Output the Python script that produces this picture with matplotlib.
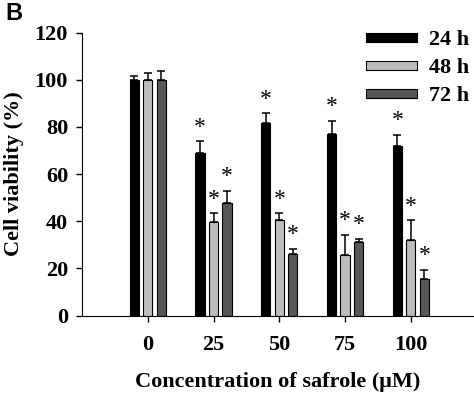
import numpy as np
import matplotlib as mpl
mpl.use('Agg')
import matplotlib.pyplot as plt
from matplotlib.patches import Patch

plt.rcParams['font.family'] = ['Liberation Serif', 'DejaVu Serif']

# data
conc = ['0', '25', '50', '75', '100']
labels = ['24 h', '48 h', '72 h']
v24 = [100, 68.8, 81.6, 76.9, 72.0]
e24 = [1.8, 5.1, 4.2, 5.8, 4.6]
v48 = [100, 39.8, 40.4, 25.5, 31.9]
e48 = [3.0, 3.6, 2.9, 8.8, 8.5]
v72 = [100, 47.8, 26.0, 31.2, 15.5]
e72 = [3.8, 5.0, 2.4, 1.3, 3.9]
stars24 = [False, True, True, True, True]
stars48 = [False, True, True, True, True]
stars72 = [False, True, True, True, True]

colors = ['#000000', '#bdbdbd', '#575757']

fig = plt.figure(figsize=(4.74, 3.99), dpi=100)
ax = fig.add_axes([82/474, (399-315.5)/399, (474-82)/474, (315.5-32.7)/399])

x = np.arange(len(conc))
w = 0.141
off = 0.205
series = [(v24, e24, stars24), (v48, e48, stars48), (v72, e72, stars72)]
for k, (vals, errs, stars) in enumerate(series):
	xs = x + (k-1)*off
	ax.bar(xs, vals, w, color=colors[k], edgecolor='black', linewidth=0.8, zorder=2)
	ax.errorbar(xs, vals, yerr=[np.zeros(len(vals)), errs], fmt='none',
		ecolor='black', elinewidth=1.1, capsize=3, capthick=1.1, zorder=3)
	for i in range(len(vals)):
		if stars[i]:
			ax.text(xs[i], vals[i] + errs[i] + 6, '*', ha='center', va='center',
				fontsize=17, family='Liberation Serif')

ax.set_xlim(-1.0, 4.96)
ax.set_ylim(0, 120)
ax.set_yticks([0, 20, 40, 60, 80, 100, 120])
ax.set_xticks(x)
ax.set_xticklabels(conc)
ax.spines['top'].set_visible(False)
ax.spines['right'].set_visible(False)
ax.tick_params(axis='both', direction='out', length=4, width=1, labelsize=16)
ax.tick_params(axis='x', pad=10)
ax.tick_params(axis='y', pad=6)
for lab in ax.get_xticklabels() + ax.get_yticklabels():
	lab.set_fontweight('bold')

ax.set_xlabel('Concentration of safrole (\u03bcM)', fontsize=16, fontweight='bold', labelpad=12)
ax.set_ylabel('Cell viability (%)', fontsize=16, fontweight='bold', labelpad=8)

handles = [Patch(facecolor=colors[k], edgecolor='black', linewidth=0.8) for k in range(3)]
leg = ax.legend(handles, labels, loc='upper right', bbox_to_anchor=(1.022, 1.055),
	frameon=False, handlelength=2.3, handleheight=0.2, handletextpad=0.55,
	labelspacing=0.36, borderaxespad=0.2,
	prop={'family': 'Liberation Serif', 'weight': 'bold', 'size': 16})

fig.text(0.012, 0.995, 'B', ha='left', va='top', fontsize=17, fontweight='bold',
	family='Liberation Sans')

plt.savefig('out.png', dpi=100)
